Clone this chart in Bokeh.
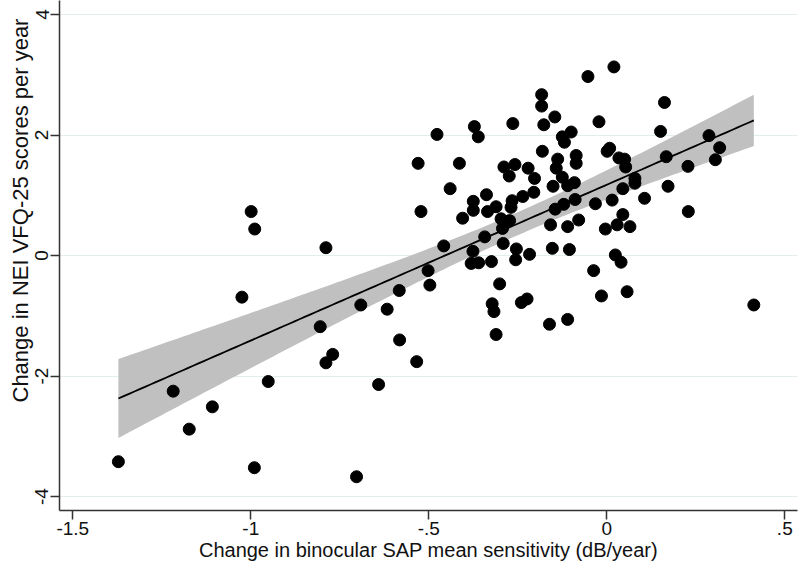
import numpy as np
from bokeh.plotting import figure
from bokeh.models import Range1d, FixedTicker, Title, ColumnDataSource
from bokeh.embed import file_html
from bokeh.resources import INLINE

# Change in binocular SAP mean sensitivity (dB/year)
sap_change = [
    -0.999, -0.989, -0.789, -1.025, -0.805, -0.770, -0.789, -1.218, -0.951, -1.108, -1.173, -1.372, -0.990,
    -0.477, -0.372, -0.361, -0.530, -0.414, -0.440, -0.338, -0.375, -0.375, -0.335, -0.311, -0.522, -0.405,
    -0.343, -0.458, -0.376, -0.381, -0.360, -0.324, -0.502,
    -0.497, -0.583, -0.691, -0.617, -0.301, -0.322, -0.317, -0.311, -0.582, -0.534, -0.641, -0.703,
    -0.053, -0.183, -0.183, -0.264, -0.177, -0.146, -0.022, -0.125, -0.100, -0.119, -0.181, -0.138, -0.086,
    -0.086, -0.142, -0.289, -0.258, -0.274, -0.221, -0.203, -0.125, -0.110, -0.091, -0.151, -0.266, -0.236,
    -0.205, -0.269, -0.145, -0.121, -0.089, -0.032, -0.004, -0.297, -0.273, -0.293, -0.158, -0.110, -0.079,
    -0.291, -0.254, -0.153, -0.105, -0.217, -0.256, -0.037,
    -0.015, -0.240, -0.224, -0.161, -0.110,
    0.020, 0.162, 0.151, 0.287, 0.317, 0.305, 0.228, 0.167, 0.008, 0.001, 0.034, 0.050, 0.053, 0.079, 0.079,
    0.045, 0.015, 0.106, 0.172, 0.229, 0.045, 0.029, 0.065, 0.024, 0.040, 0.057, 0.413,
]
# Change in NEI VFQ-25 scores per year
vfq_change = [
    0.73, 0.44, 0.13, -0.69, -1.18, -1.64, -1.78, -2.25, -2.09, -2.51, -2.88, -3.42, -3.52,
    2.01, 2.14, 1.97, 1.53, 1.53, 1.11, 1.01, 0.90, 0.75, 0.73, 0.81, 0.73, 0.62,
    0.31, 0.16, 0.07, -0.13, -0.12, -0.10, -0.25,
    -0.49, -0.58, -0.82, -0.89, -0.47, -0.80, -0.93, -1.31, -1.40, -1.76, -2.14, -3.67,
    2.97, 2.67, 2.48, 2.19, 2.17, 2.30, 2.22, 1.97, 2.05, 1.88, 1.73, 1.60, 1.66,
    1.53, 1.45, 1.47, 1.51, 1.32, 1.45, 1.28, 1.30, 1.16, 1.21, 1.15, 0.91, 0.98,
    1.05, 0.80, 0.77, 0.85, 0.93, 0.86, 0.44, 0.61, 0.58, 0.45, 0.51, 0.48, 0.59,
    0.20, 0.11, 0.12, 0.10, 0.02, -0.07, -0.25,
    -0.67, -0.78, -0.72, -1.14, -1.06,
    3.13, 2.54, 2.06, 1.99, 1.79, 1.59, 1.48, 1.64, 1.78, 1.73, 1.62, 1.60, 1.47, 1.28, 1.20,
    1.11, 0.92, 0.95, 1.15, 0.73, 0.68, 0.51, 0.48, 0.01, -0.11, -0.60, -0.82,
]

x_ticks = [-1.5, -1.0, -0.5, 0.0, 0.5]
x_tick_labels = ["-1.5", "-1", "-.5", "0", ".5"]
y_ticks = [-4, -2, 0, 2, 4]
y_tick_labels = ["-4", "-2", "0", "2", "4"]

x_title = "Change in binocular SAP mean sensitivity (dB/year)"
y_title = "Change in NEI VFQ-25 scores per year"

# Linear fit with 95% CI of the mean prediction (as Stata lfitci)
x = np.array(sap_change)
y = np.array(vfq_change)
n = len(x)
b, a = np.polyfit(x, y, 1)
resid = y - (a + b * x)
s = np.sqrt(np.sum(resid ** 2) / (n - 2))
xbar = x.mean()
sxx = np.sum((x - xbar) ** 2)
t_crit = 1.98
xs = np.linspace(x.min(), x.max(), 120)
fit = a + b * xs
half = t_crit * s * np.sqrt(1.0 / n + (xs - xbar) ** 2 / sxx)

FONT = "Liberation Sans"

p = figure(width=800, height=571, output_backend="svg", toolbar_location=None,
           x_range=Range1d(-1.5374, 0.5357), y_range=Range1d(-4.23, 4.232),
           min_border_left=59, min_border_right=3, min_border_top=0, min_border_bottom=61)
p.outline_line_color = None
p.background_fill_color = "white"
p.border_fill_color = "white"

p.xgrid.visible = False
p.ygrid.grid_line_color = "#e4eded"
p.ygrid.grid_line_width = 1
p.ygrid.ticker = FixedTicker(ticks=y_ticks)

p.xaxis.ticker = FixedTicker(ticks=x_ticks)
p.xaxis.major_label_overrides = {t: l for t, l in zip(x_ticks, x_tick_labels)}
p.yaxis.ticker = FixedTicker(ticks=y_ticks)
p.yaxis.major_label_overrides = {t: l for t, l in zip(y_ticks, y_tick_labels)}
p.yaxis.major_label_orientation = "vertical"

for ax in (p.xaxis, p.yaxis):
    ax.axis_line_color = "#333333"
    ax.axis_line_width = 1.5
    ax.major_tick_line_color = "#333333"
    ax.major_tick_line_width = 1.5
    ax.major_tick_in = 0
    ax.major_tick_out = 9
    ax.minor_tick_line_color = None
    ax.major_label_text_font = FONT
    ax.major_label_text_font_size = "19px"
    ax.major_label_text_color = "#111111"
    ax.major_label_standoff = 2

p.xaxis.axis_label = x_title
p.xaxis.axis_label_text_font = FONT
p.xaxis.axis_label_text_font_size = "20px"
p.xaxis.axis_label_text_font_style = "normal"
p.xaxis.axis_label_text_color = "#111111"
p.xaxis.axis_label_standoff = 1

p.add_layout(Title(text=y_title, align="left", offset=108, standoff=0,
                   text_font=FONT, text_font_size="22px", text_font_style="normal",
                   text_color="#111111"), "left")

band = ColumnDataSource(dict(x=xs, lo=fit - half, hi=fit + half, fit=fit))
p.varea(x="x", y1="lo", y2="hi", source=band, fill_color="#c0c0c0", fill_alpha=1.0)
p.line(x="x", y="fit", source=band, line_color="black", line_width=1.8)

pts = ColumnDataSource(dict(x=sap_change, y=vfq_change))
p.scatter(x="x", y="y", source=pts, size=12, fill_color="black", line_color="black")

open("out.html", "w").write(file_html(p, INLINE))
